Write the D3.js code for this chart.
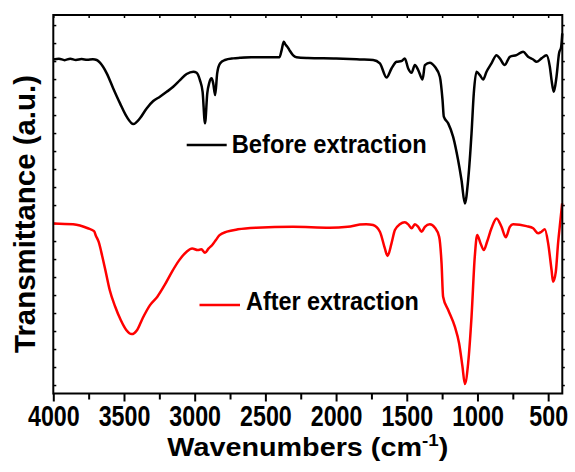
<!DOCTYPE html>
<html>
<head>
<meta charset="utf-8">
<script src="https://cdn.jsdelivr.net/npm/d3@7"></script>
<style>
  html, body { margin: 0; padding: 0; background: #fff; }
  svg { display: block; }
  text { font-family: "Liberation Sans", Arial, sans-serif; font-weight: bold; fill: #000; }
</style>
</head>
<body>
<svg id="chart" width="575" height="472"></svg>
<script>
// FTIR spectra (transmittance, arbitrary units) before and after extraction
const wnBefore = [4000, 3960, 3920, 3880, 3840, 3800, 3760, 3720, 3693, 3670, 3622, 3576, 3528, 3481, 3434,
  3387, 3340, 3293, 3246, 3198, 3152, 3104, 3057, 3010, 2986, 2963, 2944, 2927, 2911, 2897, 2880, 2869,
  2855, 2841, 2821, 2786, 2727, 2680, 2600, 2500, 2400, 2385, 2370, 2360, 2344, 2330, 2305, 2280, 2200,
  2000, 1832, 1738, 1690, 1643, 1608, 1572, 1537, 1514, 1490, 1466, 1443, 1419, 1388, 1372, 1337, 1301,
  1266, 1247, 1238, 1207, 1172, 1137, 1113, 1089, 1066, 1042, 1026, 1007, 983, 960, 936, 901, 865, 842,
  807, 771, 724, 677, 642, 606, 582, 547, 512, 488, 476, 460, 441, 423, 408, 400];
const tBefore = [18.09, 18.13, 18.05, 18.13, 18.06, 18.11, 18.07, 18.1, 18.06, 17.91, 17.32, 16.48, 15.65, 14.91, 14.5,
  14.82, 15.37, 15.78, 16.02, 16.29, 16.57, 16.94, 17.28, 17.41, 17.35, 16.94, 16.29, 14.54, 16.21, 16.79, 17.04, 16.76,
  16.11, 17.32, 17.87, 18.06, 18.15, 18.18, 18.21, 18.21, 18.21, 18.61, 19.07, 18.94, 18.79, 18.61, 18.33, 18.21, 18.17,
  18.14, 18.09, 18.06, 17.87, 17.09, 17.59, 17.96, 18.0, 18.15, 17.59, 17.35, 17.78, 17.5, 16.98, 17.78, 17.91, 17.68,
  17.13, 15.83, 14.91, 14.54, 13.79, 12.5, 11.39, 10.09, 11.39, 13.98, 16.21, 17.41, 17.22, 16.98, 17.41, 17.87, 18.33, 18.15,
  17.78, 18.24, 18.33, 18.52, 18.24, 18.09, 17.96, 18.15, 18.33, 17.68, 16.94, 16.29, 17.13, 18.43, 18.79, 19.54];

const wnAfter = [4000, 3860, 3756, 3712, 3699, 3679, 3653, 3627, 3601, 3562, 3523, 3484, 3446, 3407, 3368, 3316,
  3264, 3212, 3161, 3109, 3057, 3018, 2979, 2953, 2927, 2901, 2876, 2850, 2824, 2772, 2694, 2565, 2305,
  2046, 1917, 1832, 1787, 1738, 1690, 1655, 1636, 1608, 1584, 1549, 1514, 1490, 1466, 1443, 1419, 1395,
  1372, 1337, 1301, 1271, 1254, 1243, 1207, 1160, 1130, 1106, 1089, 1066, 1042, 1019, 1002, 978, 955,
  932, 901, 865, 830, 800, 771, 748, 653, 606, 571, 547, 524, 500, 476, 465, 446, 430, 413, 401];
const tAfter = [8.98, 8.93, 8.71, 8.55, 8.3, 7.95, 7.13, 6.21, 5.28, 4.35, 3.61, 3.06, 2.83, 3.06, 3.71, 4.44,
  4.91, 5.56, 6.29, 6.94, 7.41, 7.59, 7.5, 7.54, 7.35, 7.59, 7.78, 8.06, 8.33, 8.52, 8.65, 8.74, 8.79,
  8.74, 8.79, 8.92, 8.94, 8.89, 8.52, 7.59, 7.17, 7.87, 8.61, 8.93, 9.04, 8.93, 8.71, 8.93, 8.79, 8.52,
  8.79, 8.93, 8.74, 8.24, 6.76, 4.91, 4.17, 3.24, 2.32, 1.02, 0.06, 1.21, 3.79, 7.13, 8.33, 7.87, 7.5,
  7.96, 8.71, 9.26, 8.79, 8.21, 8.79, 8.93, 8.83, 8.71, 8.43, 8.52, 8.65, 7.87, 6.39, 5.74, 6.29, 7.87, 9.17, 10.09];

const seriesNames = ["Before extraction", "After extraction"];
const seriesColors = ["#000000", "#ff0000"];

const xTickLabels = [4000, 3500, 3000, 2500, 2000, 1500, 1000, 500];
const xMinorTicks = [3750, 3250, 2750, 2250, 1750, 1250, 750];
const yTicks = d3.range(0, 21);

const xTitle = "Wavenumbers (cm";
const xTitleSup = "-1";
const yTitle = "Transmittance (a.u.)";

const W = 575, H = 472;
const margin = { left: 53.3, right: 12.7, top: 15, bottom: 78.5 };
const plotW = W - margin.left - margin.right;
const plotH = H - margin.top - margin.bottom;

const svg = d3.select("#chart");
const g = svg.append("g").attr("transform", `translate(${margin.left},${margin.top})`);

const x = d3.scaleLinear().domain([4000, 400]).range([0, plotW]);
const y = d3.scaleLinear().domain([-0.47, 20.56]).range([plotH, 0]);

// horizontal factor that makes a text element span the given width
function fit(sel, target) {
  const w = sel.node().getBBox().width;
  return target / w;
}

// bottom axis: labelled major ticks and shorter minor ticks, pointing out
const axB = g.append("g").attr("transform", `translate(0,${plotH})`)
  .call(d3.axisBottom(x).tickValues(xTickLabels).tickSize(8).tickFormat(d3.format("d")));
axB.select(".domain").remove();
axB.selectAll(".tick line").attr("stroke", "#000").attr("stroke-width", 2);
const tickText = axB.selectAll(".tick text")
  .attr("y", 32.5).attr("dy", 0)
  .style("font-size", "29px").attr("fill", "#000");
const kTick = fit(axB.select(".tick:nth-of-type(7) text"), 51.7);
tickText.attr("transform", `scale(${kTick},1)`);

const axBm = g.append("g").attr("transform", `translate(0,${plotH})`)
  .call(d3.axisBottom(x).tickValues(xMinorTicks).tickSize(6).tickFormat(""));
axBm.select(".domain").remove();
axBm.selectAll(".tick line").attr("stroke", "#000").attr("stroke-width", 2);

// top axis: ticks pointing in
const axT = g.append("g")
  .call(d3.axisTop(x).tickValues(xTickLabels.concat(xMinorTicks)).tickSize(-3).tickFormat(""));
axT.select(".domain").remove();
axT.selectAll(".tick line").attr("stroke", "#000").attr("stroke-width", 1.5);

// left axis: ticks pointing in, no labels
const axL = g.append("g")
  .call(d3.axisLeft(y).tickValues(yTicks).tickSize(-3).tickFormat(""));
axL.select(".domain").remove();
axL.selectAll(".tick line").attr("stroke", "#000").attr("stroke-width", 1.5);

// right axis: ticks pointing out
const axR = g.append("g").attr("transform", `translate(${plotW},0)`)
  .call(d3.axisRight(y).tickValues(yTicks).tickSize(2.5).tickFormat(""));
axR.select(".domain").remove();
axR.selectAll(".tick line").attr("stroke", "#000").attr("stroke-width", 1.5);

// spectra
const line = d3.line().x(d => x(d[0])).y(d => y(d[1])).curve(d3.curveMonotoneX);
const series = [d3.zip(wnBefore, tBefore), d3.zip(wnAfter, tAfter)];
series.forEach((s, i) => {
  g.append("path").datum(s)
    .attr("fill", "none")
    .attr("stroke", seriesColors[i])
    .attr("stroke-width", 2.5)
    .attr("stroke-linejoin", "round")
    .attr("d", line);
});

// frame
g.append("rect").attr("x", 0).attr("y", 0).attr("width", plotW).attr("height", plotH)
  .attr("fill", "none").attr("stroke", "#000").attr("stroke-width", 2);

// legend entries placed beside each spectrum
const legend = [
  { x0: 186.7, x1: 226.7, ly: 145, tx: 231.7, ty: 153.3, w: 195 },
  { x0: 199.5, x1: 240, ly: 305, tx: 246, ty: 310, w: 173 }
];
legend.forEach((L, i) => {
  svg.append("line").attr("x1", L.x0).attr("x2", L.x1).attr("y1", L.ly).attr("y2", L.ly)
    .attr("stroke", seriesColors[i]).attr("stroke-width", 2.5);
  const t = svg.append("text").text(seriesNames[i]).style("font-size", "25px");
  const k = fit(t, L.w);
  t.attr("transform", `translate(${L.tx},${L.ty}) scale(${k},1)`);
});

// x-axis title with superscript
const xt = svg.append("text").attr("text-anchor", "middle").style("font-size", "26px");
xt.append("tspan").text(xTitle);
xt.append("tspan").text(xTitleSup).style("font-size", "17px").attr("dy", -10);
xt.append("tspan").text(")").attr("dy", 10);
const kx = fit(xt, 281);
xt.attr("transform", `translate(${margin.left + plotW / 2},456) scale(${kx},1)`);

// y-axis title
const yt = svg.append("text").attr("text-anchor", "middle").style("font-size", "29px").text(yTitle);
const ky = fit(yt, 278);
yt.attr("transform", `translate(35,214) rotate(-90) scale(${ky},1)`);
</script>
</body>
</html>
